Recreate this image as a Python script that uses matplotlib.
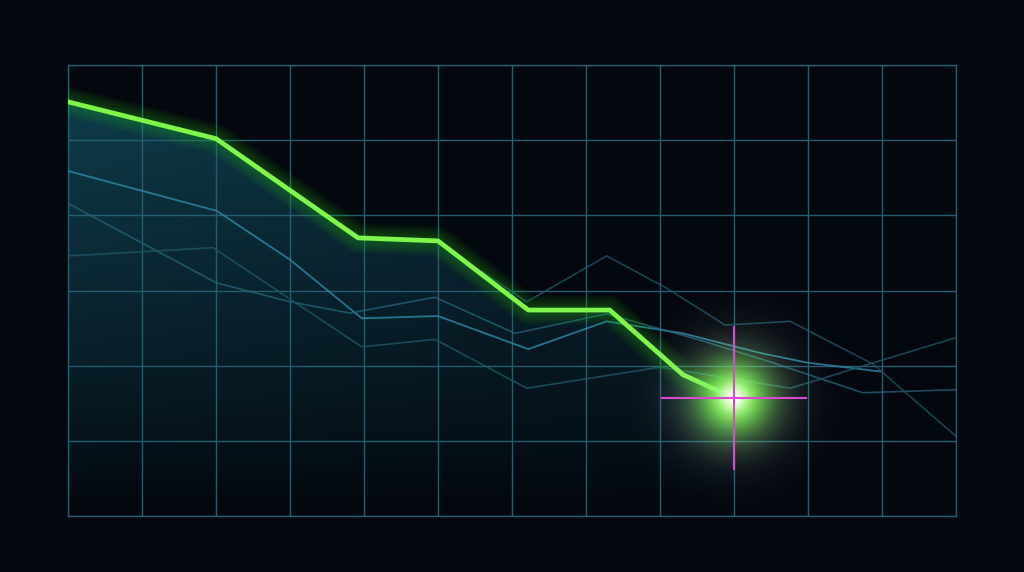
import numpy as np
import matplotlib
matplotlib.use('Agg')
from matplotlib import pyplot as plt
from matplotlib.colors import to_rgb

# main (highlighted) series
main_x = [0, 2.0, 3.92, 5.0, 6.22, 7.32, 8.31, 9.0]
main_y = [5.51, 5.02, 3.70, 3.66, 2.74, 2.74, 1.88, 1.57]

# faint background series
a_x = [0, 2.01, 3.0, 3.97, 5.0, 6.22, 7.28, 8.31, 9.35, 9.99, 11.0]
a_y = [4.59, 4.06, 3.41, 2.63, 2.66, 2.22, 2.59, 2.43, 2.17, 2.04, 1.92]

b_x = [0, 2.01, 3.0, 3.81, 4.96, 6.04, 7.28, 8.54, 9.49, 10.74, 11.99]
b_y = [4.16, 3.10, 2.85, 2.70, 2.91, 2.43, 2.69, 2.34, 2.05, 1.64, 1.68]

c_x = [0, 1.96, 3.97, 4.96, 6.20, 8.0, 9.76, 11.99]
c_y = [3.46, 3.57, 2.25, 2.35, 1.70, 1.98, 1.70, 2.37]

d_x = [5.6, 6.20, 7.28, 8.09, 8.88, 9.76, 10.88, 12.0]
d_y = [3.25, 2.85, 3.46, 3.03, 2.54, 2.59, 2.02, 1.06]

# marker position
mark_x, mark_y = 9.0, 1.57

bg = '#03080e'
grid_col = '#245d6f'

fig = plt.figure(figsize=(10.24, 5.72), dpi=100, facecolor=bg)
ax = fig.add_axes([68/1024, 1 - 516/572, (956-68)/1024, (516-65)/572])
ax.set_facecolor(bg)

ax.set_xticks(np.arange(13))
ax.set_yticks(np.arange(7))
ax.tick_params(length=0, labelbottom=False, labelleft=False)
ax.grid(True, color=grid_col, lw=1.0)
ax.set_axisbelow(False)
for s in ax.spines.values():
    s.set_color(grid_col)
    s.set_linewidth(1.0)

# gradient fill under main line
poly = ax.fill_between(main_x, main_y, 0, color='none', lw=0)
gx = np.linspace(0, 12, 300)
gy = np.linspace(0, 6, 200)
GX, GY = np.meshgrid(gx, gy)
alpha = np.clip((GY - 0.2) / 5.5, 0, 1) ** 0.8 * 0.95 * (1 - 0.4 * GX / 9.0)
img = np.zeros(GX.shape + (4,))
img[..., :3] = to_rgb('#104050')
img[..., 3] = np.clip(alpha, 0, 1)
im = ax.imshow(img, extent=[0, 12, 0, 6], origin='lower', aspect='auto', zorder=1)
im.set_clip_path(poly.get_paths()[0], transform=ax.transData)

# faint lines
ax.plot(a_x, a_y, color='#2b84a0', lw=1.3, alpha=0.85, zorder=3)
ax.plot(b_x, b_y, color='#24657b', lw=1.2, alpha=0.75, zorder=3)
ax.plot(c_x, c_y, color='#1f5565', lw=1.2, alpha=0.8, zorder=3)
ax.plot(d_x, d_y, color='#1f5262', lw=1.2, alpha=0.8, zorder=3)

# glowing main line
for w in np.linspace(22, 5, 12):
    ax.plot(main_x, main_y, color='#38e81a', lw=w, alpha=0.025, zorder=4,
            solid_capstyle='round', solid_joinstyle='round')
ax.plot(main_x, main_y, color='#80f64c', lw=3.4, zorder=5,
        solid_capstyle='round', solid_joinstyle='round')

# glow at marker
r_ext = 2.0
xx = np.linspace(-r_ext, r_ext, 301)
XX, YY = np.meshgrid(xx, xx)
R = np.hypot(XX * 74, YY * 75)  # pixels


def blob(color, sigma, amp):
    g = np.zeros(XX.shape + (4,))
    g[..., :3] = to_rgb(color)
    g[..., 3] = amp * np.exp(-(R / sigma) ** 2)
    return g


ext = [mark_x - r_ext, mark_x + r_ext, mark_y - r_ext, mark_y + r_ext]
for col, sig, amp in [('#e6d2f2', 55, 0.35), ('#5cff30', 36, 0.9),
                      ('#b8ff8a', 21, 0.95), ('#ffffff', 11, 1.0)]:
    ax.imshow(blob(col, sig, amp), extent=ext, origin='lower', aspect='auto',
              zorder=6, interpolation='bilinear')

# crosshair
ax.plot([mark_x - 0.97, mark_x + 0.97], [mark_y, mark_y], color='#d94ad0', lw=1.5, zorder=7)
ax.plot([mark_x, mark_x], [mark_y - 0.95, mark_y + 0.95], color='#d94ad0', lw=1.5, zorder=7)

ax.set_xlim(0, 12)
ax.set_ylim(0, 6)

plt.savefig('out.png', dpi=100, facecolor=bg)
